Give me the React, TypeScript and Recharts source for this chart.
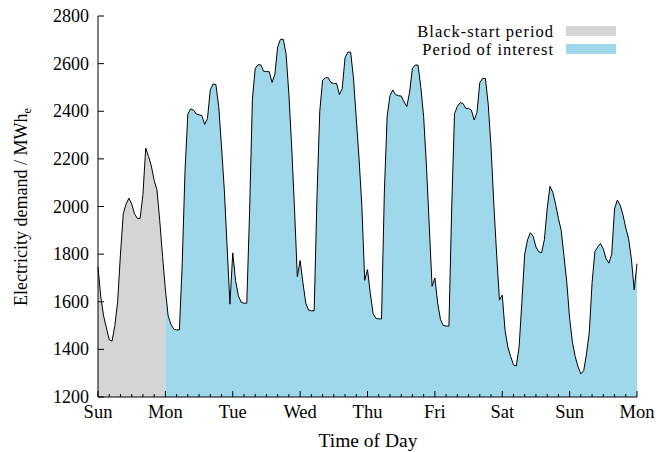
import React from "react";
import { ComposedChart, Area, Line, XAxis, YAxis, Legend } from "recharts";

// Hourly electricity demand (MWh_e), one array per day, Sunday 00:00 onwards
const demandSun = [1745, 1620, 1540, 1490, 1440, 1435, 1500, 1600, 1800, 1970, 2010, 2035, 2010, 1970, 1950, 1950, 2050, 2245, 2210, 2170, 2110, 2070, 1940, 1790];
const demandMon = [1650, 1540, 1505, 1485, 1482, 1482, 1760, 2150, 2388, 2410, 2405, 2388, 2385, 2382, 2345, 2370, 2490, 2515, 2512, 2420, 2250, 2070, 1830, 1590];
const demandTue = [1805, 1690, 1625, 1598, 1594, 1594, 1980, 2450, 2580, 2595, 2595, 2568, 2567, 2566, 2521, 2555, 2670, 2702, 2702, 2640, 2470, 2250, 1990, 1705];
const demandWed = [1773, 1680, 1595, 1565, 1562, 1562, 2040, 2400, 2530, 2541, 2541, 2520, 2517, 2517, 2470, 2495, 2625, 2648, 2648, 2540, 2370, 2200, 2000, 1690];
const demandThu = [1735, 1635, 1550, 1530, 1528, 1528, 2060, 2380, 2465, 2489, 2470, 2465, 2464, 2440, 2420, 2480, 2580, 2594, 2594, 2500, 2377, 2170, 1920, 1665];
const demandFri = [1700, 1595, 1525, 1500, 1498, 1498, 2000, 2390, 2420, 2436, 2433, 2412, 2412, 2405, 2363, 2395, 2520, 2538, 2538, 2430, 2250, 2010, 1800, 1607];
const demandSat = [1628, 1480, 1410, 1370, 1335, 1330, 1410, 1600, 1800, 1860, 1890, 1875, 1830, 1810, 1806, 1860, 1990, 2085, 2060, 2010, 1950, 1900, 1790, 1680];
const demandSun2 = [1530, 1430, 1369, 1327, 1297, 1310, 1380, 1470, 1680, 1810, 1830, 1845, 1822, 1780, 1762, 1800, 1990, 2027, 2006, 1965, 1910, 1866, 1780, 1650];
const demandMonEnd = [1760];

const dayLabels = ["Sun", "Mon", "Tue", "Wed", "Thu", "Fri", "Sat", "Sun", "Mon"];
const demandTicks = [1200, 1400, 1600, 1800, 2000, 2200, 2400, 2600, 2800];
const hourTicks = [
  0, 4, 8, 12, 16, 20, 24, 28, 32, 36, 40, 44, 48, 52, 56, 60, 64, 68, 72, 76, 80, 84, 88, 92, 96,
  100, 104, 108, 112, 116, 120, 124, 128, 132, 136, 140, 144, 148, 152, 156, 160, 164, 168, 172,
  176, 180, 184, 188, 192,
];
const blackStartEnd = 24; // black-start covers the first day

const FONT = '"Liberation Serif", "DejaVu Serif", serif';
const GREY = "#d5d5d5";
const BLUE = "#9fd8eb";

const demand = [
  ...demandSun, ...demandMon, ...demandTue, ...demandWed,
  ...demandThu, ...demandFri, ...demandSat, ...demandSun2, ...demandMonEnd,
];

const data = demand.map((v, hour) => ({
  hour,
  demand: v,
  blackStart: hour <= blackStartEnd ? v : null,
  interest: hour >= blackStartEnd ? v : null,
}));

const MAJOR = 6;
const MINOR = 3;

function BottomTick({ x, y, payload }: any) {
  const major = payload.value % 24 === 0;
  return (
    <g>
      <line x1={x} x2={x} y1={y} y2={y - (major ? MAJOR : MINOR)} stroke="#000" />
      {major && (
        <text x={x} y={y + 21} textAnchor="middle" fontFamily={FONT} fontSize={18.5} fill="#000">
          {dayLabels[payload.value / 24]}
        </text>
      )}
    </g>
  );
}

function TopTick({ x, y, payload }: any) {
  const major = payload.value % 24 === 0;
  return <line x1={x} x2={x} y1={y} y2={y + (major ? MAJOR : MINOR)} stroke="#000" />;
}

function LeftTick({ x, y, payload }: any) {
  return (
    <g>
      <line x1={x} x2={x + MAJOR} y1={y} y2={y} stroke="#000" />
      <text x={x - 9} y={y + 6} textAnchor="end" fontFamily={FONT} fontSize={18} fill="#000">
        {payload.value}
      </text>
    </g>
  );
}

function RightTick({ x, y }: any) {
  return <line x1={x} x2={x - MAJOR} y1={y} y2={y} stroke="#000" />;
}

function YTitle() {
  return (
    <text
      transform="translate(27, 207) rotate(-90)"
      textAnchor="middle"
      fontFamily={FONT}
      fontSize={18}
      fill="#000"
    >
      Electricity demand / MWh
      <tspan fontSize={12} dy={4}>e</tspan>
    </text>
  );
}

function XTitle() {
  return (
    <text x={368} y={447} textAnchor="middle" fontFamily={FONT} fontSize={19.5} fill="#000">
      Time of Day
    </text>
  );
}

function PeriodLegend() {
  const rows = [
    { name: "Black-start period", color: GREY },
    { name: "Period of interest", color: BLUE },
  ];
  return (
    <div style={{ fontFamily: FONT, fontSize: 16.5, lineHeight: "17px", letterSpacing: 1 }}>
      {rows.map((r) => (
        <div
          key={r.name}
          style={{ display: "flex", justifyContent: "flex-end", alignItems: "center", height: 18 }}
        >
          <span style={{ marginRight: 12 }}>{r.name}</span>
          <span style={{ display: "inline-block", width: 50, height: 10, background: r.color }} />
        </div>
      ))}
    </div>
  );
}

export default function App() {
  return (
    <div style={{ position: "absolute", left: 0, top: 0 }}>
      <ComposedChart width={670} height={452} data={data} margin={{ top: 16, right: 33, bottom: 0, left: 0 }}>
        <Legend
          layout="vertical"
          align="center"
          verticalAlign="middle"
          content={<PeriodLegend />}
          wrapperStyle={{ top: 22, left: 360, width: 256 }}
        />
        <Area
          xAxisId="bottom"
          yAxisId="left"
          type="linear"
          dataKey="blackStart"
          stroke="none"
          fill={GREY}
          fillOpacity={1}
          isAnimationActive={false}
          connectNulls={false}
        />
        <Area
          xAxisId="bottom"
          yAxisId="left"
          type="linear"
          dataKey="interest"
          stroke="none"
          fill={BLUE}
          fillOpacity={1}
          isAnimationActive={false}
          connectNulls={false}
        />
        <Line
          xAxisId="bottom"
          yAxisId="left"
          type="linear"
          dataKey="demand"
          stroke="#000"
          strokeWidth={1}
          dot={false}
          activeDot={false}
          isAnimationActive={false}
        />
        <XAxis
          xAxisId="bottom"
          dataKey="hour"
          type="number"
          domain={[0, 192]}
          ticks={hourTicks}
          interval={0}
          height={55}
          tickSize={0}
          tickMargin={0}
          tickLine={false}
          tick={<BottomTick />}
          axisLine={{ stroke: "#000" }}
          label={{ content: <XTitle /> }}
        />
        <XAxis
          xAxisId="top"
          orientation="top"
          dataKey="hour"
          type="number"
          domain={[0, 192]}
          ticks={hourTicks}
          interval={0}
          height={0}
          tickSize={0}
          tickMargin={0}
          tickLine={false}
          tick={<TopTick />}
          axisLine={{ stroke: "#000" }}
        />
        <YAxis
          yAxisId="left"
          type="number"
          domain={[1200, 2800]}
          ticks={demandTicks}
          interval={0}
          width={98}
          tickSize={0}
          tickMargin={0}
          tickLine={false}
          tick={<LeftTick />}
          axisLine={{ stroke: "#000" }}
          label={{ content: <YTitle /> }}
        />
        <YAxis
          yAxisId="right"
          orientation="right"
          type="number"
          domain={[1200, 2800]}
          ticks={demandTicks}
          interval={0}
          width={0}
          tickSize={0}
          tickMargin={0}
          tickLine={false}
          tick={<RightTick />}
          axisLine={{ stroke: "#000" }}
        />
      </ComposedChart>
    </div>
  );
}
